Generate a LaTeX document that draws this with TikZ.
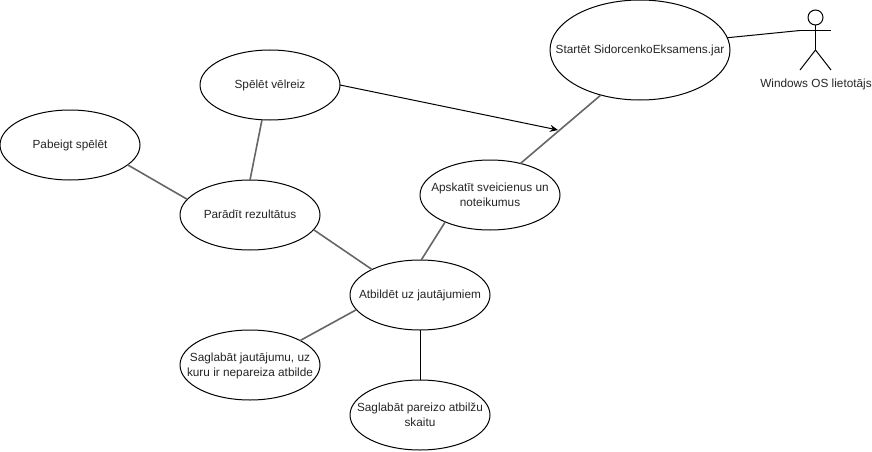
\documentclass[tikz,border=0pt]{standalone}
\usepackage{fontspec}
\setmainfont{Liberation Sans}
\usetikzlibrary{shapes.geometric,arrows.meta}
\newcommand{\uctext}[1]{\raisebox{-7pt}{\makebox[0pt][c]{\smash{\begin{tabular}{@{}c@{}}#1\end{tabular}}}}}
\tikzset{
  uc/.style={draw=black,line width=1pt,ellipse,inner sep=0pt,outer sep=0pt,minimum width=140pt,minimum height=70pt,font=\fontsize{11.8}{15}\selectfont,text=black!85},
  link/.style={draw=black!60,line width=1.6pt},
  blink/.style={draw=black,line width=1pt},
  actorline/.style={draw=black,line width=1pt}
}
\begin{document}
\begin{tikzpicture}[x=1pt,y=-1pt]
\useasboundingbox[fill=white] (0,0) rectangle (872,452);
\node[uc,minimum width=180pt,minimum height=100pt] (start) at (640,50) {\uctext{Startēt SidorcenkoEksamens.jar}};
\node[uc] (again) at (270,85) {\uctext{Spēlēt vēlreiz}};
\node[uc] (finish) at (70,145) {\uctext{Pabeigt spēlēt}};
\node[uc] (results) at (250,215) {\uctext{Parādīt rezultātus}};
\node[uc] (rules) at (490,195) {\uctext{Apskatīt sveicienus un\\noteikumus}};
\node[uc] (answer) at (420,295) {\uctext{Atbildēt uz jautājumiem}};
\node[uc] (savewrong) at (250,365) {\uctext{Saglabāt jautājumu, uz\\kuru ir nepareiza atbilde}};
\node[uc] (saveright) at (420,415) {\uctext{Saglabāt pareizo atbilžu\\skaitu}};
% actor
\node[circle,draw=black,line width=1pt,minimum size=15pt,inner sep=0pt,outer sep=0pt] (head) at (815.5,17.5) {};
\coordinate (hip) at (815.5,50);
\coordinate (armL) at (800,30.5);
\coordinate (armR) at (830.5,30.5);
\coordinate (legL) at (800,70);
\coordinate (legR) at (831,70);
\draw[actorline] (head.south) -- (hip);
\draw[actorline] (armL) -- (armR);
\draw[actorline] (legL) -- (hip) -- (legR);
\node[font=\fontsize{11.8}{14}\selectfont,text=black!85,inner sep=0pt] (actorlabel) at (816,84) {Windows OS lietotājs};
% connectors
\draw[blink] (start.8.3) -- (armL);
\draw[link] (start.229.6) -- (rules.46);
\draw[link] (rules.211.5) -- (answer.88);
\draw[link] (results.-13.4) -- (answer.152.5);
\draw[link] (finish.-19.8) -- (results.166);
\draw[link] (again.257) -- (results.90);
\draw[link] (answer.193) -- (savewrong.26.5);
\draw[blink] ([xshift=.5pt]answer.south) -- ([xshift=.5pt]saveright.north);
\coordinate (arrowend) at (558,130);
\draw[blink,-{Stealth[length=8pt,width=7pt]}] (again.east) -- (arrowend);
\end{tikzpicture}
\end{document}
